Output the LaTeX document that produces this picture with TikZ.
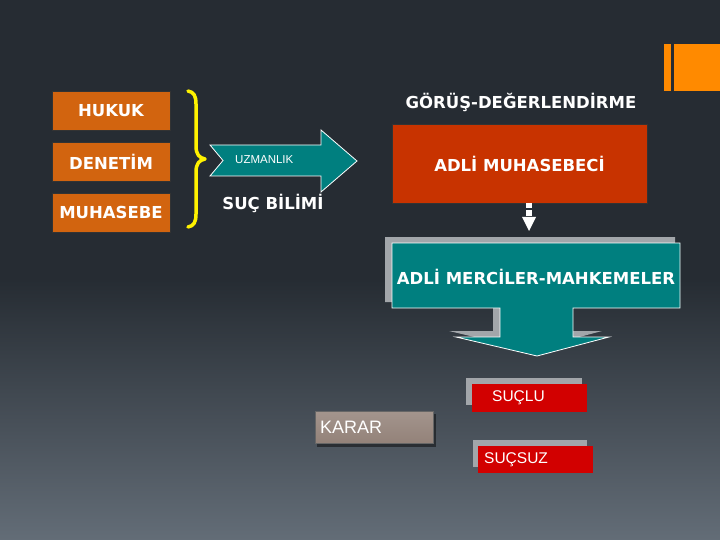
\documentclass[tikz,border=0pt]{standalone}
\usepackage{fontspec}
\setmainfont{Liberation Sans}
\newfontfamily\djsans{DejaVu Sans}
\newcommand\boldlbl{\djsans\bfseries\fontsize{16.5}{19}\selectfont}
\definecolor{bgtop}{HTML}{262C33}
\definecolor{bgbot}{HTML}{636D77}
\definecolor{boxorange}{HTML}{D2640F}
\definecolor{deco}{HTML}{FF8A00}
\definecolor{boxred}{HTML}{C83300}
\definecolor{tealc}{HTML}{007F7F}
\definecolor{redc}{HTML}{D20000}
\definecolor{shadowgray}{HTML}{A2A6AA}
\definecolor{kararfill}{HTML}{938279}
\tikzset{
  orangebox/.style={draw=black!80, line width=0.6pt, fill=boxorange, minimum width=118pt, minimum height=39pt, inner sep=0pt, font=\boldlbl, text=white},
  boldtxt/.style={font=\boldlbl, text=white, inner sep=0pt},
  regtxt/.style={text=white, inner sep=0pt},
  shadowbox/.style={fill=shadowgray},
  redbox/.style={fill=redc, inner sep=0pt}
}
\begin{document}
\begin{tikzpicture}[x=1pt,y=-1pt]
\useasboundingbox (0,0) rectangle (720,540);
% background
\fill[bgtop] (0,0) rectangle (720,540);
\shade[top color=bgtop, bottom color=bgbot] (0,280) rectangle (720,540);
% decoration top right
\fill[deco] (664,44) rectangle (671,91);
\fill[deco] (674,44) rectangle (720,91);

% left boxes
\node[orangebox] (hukuk) at (111,110.5) {HUKUK};
\node[orangebox] (denetim) at (111,161.5) {DENET\.{I}M};
\node[orangebox] (muhasebe) at (111,212.5) {MUHASEBE};

% brace
\draw[yellow, line width=3.5pt, line cap=round, line join=round]
  (188,91) .. controls (194,92) and (196,96) .. (196,104)
  -- (196,146) .. controls (196,154) and (199,158) .. (205,159)
  .. controls (199,160) and (196,164) .. (196,172)
  -- (196,214) .. controls (196,222) and (194,226) .. (188,227);

% UZMANLIK arrow
\draw[white, line width=0.8pt, fill=tealc]
  (210,145) -- (321,145) -- (321,130) -- (357,161) -- (321,192) -- (321,176) -- (210,176) -- (223,160.5) -- cycle;
\node[regtxt, anchor=west, font=\fontsize{11.5}{13}\selectfont] (uzm) at (235,160) {UZMANLIK};
\node[boldtxt] (sucbilimi) at (273,203) {SUÇ B\.{I}L\.{I}M\.{I}};

% right column
\node[boldtxt] (gorus) at (521,102) {GÖRÜŞ-DEĞERLEND\.{I}RME};
\node[draw=black!80, line width=0.6pt, fill=boxred, minimum width=255pt, minimum height=79pt, inner sep=0pt, font=\boldlbl, text=white] (amb) at (519.5,163.5) {ADL\.{I} MUHASEBEC\.{I}};

% small dashed white arrow
\fill[white] (526,203) rectangle (532,208);
\fill[white] (526,210) rectangle (532,216);
\fill[white] (522,217) -- (536,217) -- (529,231) -- cycle;

% callout shadow
\fill[shadowgray] (385,237) -- (675,237) -- (675,302) -- (566,302) -- (566,331) -- (602,331) -- (530,350) -- (449,331) -- (493,331) -- (493,302) -- (385,302) -- cycle;
% callout
\draw[white, line width=0.8pt, fill=tealc]
  (392,243) -- (680,243) -- (680,308) -- (573,308) -- (573,337) -- (609,337) -- (537,356) -- (456,337) -- (500,337) -- (500,308) -- (392,308) -- cycle;
\node[boldtxt] (merci) at (536,277) {ADL\.{I} MERC\.{I}LER-MAHKEMELER};

% SUÇLU
\fill[shadowgray] (466,378) rectangle (582,405);
\fill[redc] (472,384) rectangle (587,412);
\node[regtxt, anchor=west, font=\fontsize{15.5}{18}\selectfont] (suclu) at (492,398) {SUÇLU};

% SUÇSUZ
\fill[shadowgray] (473,440) rectangle (587,467);
\fill[redc] (478,446) rectangle (593,473);
\node[regtxt, anchor=west, font=\fontsize{15.5}{18}\selectfont] (sucsuz) at (484,460) {SUÇSUZ};

% KARAR
\fill[black, opacity=0.45] (317,414) rectangle (436,447);
\shade[top color=kararfill!85!white, bottom color=kararfill, draw=black!60, line width=0.6pt] (315,411) rectangle (433,443);
\node[regtxt, anchor=west, font=\fontsize{18}{21}\selectfont] (karar) at (320,427) {KARAR};
\end{tikzpicture}
\end{document}
